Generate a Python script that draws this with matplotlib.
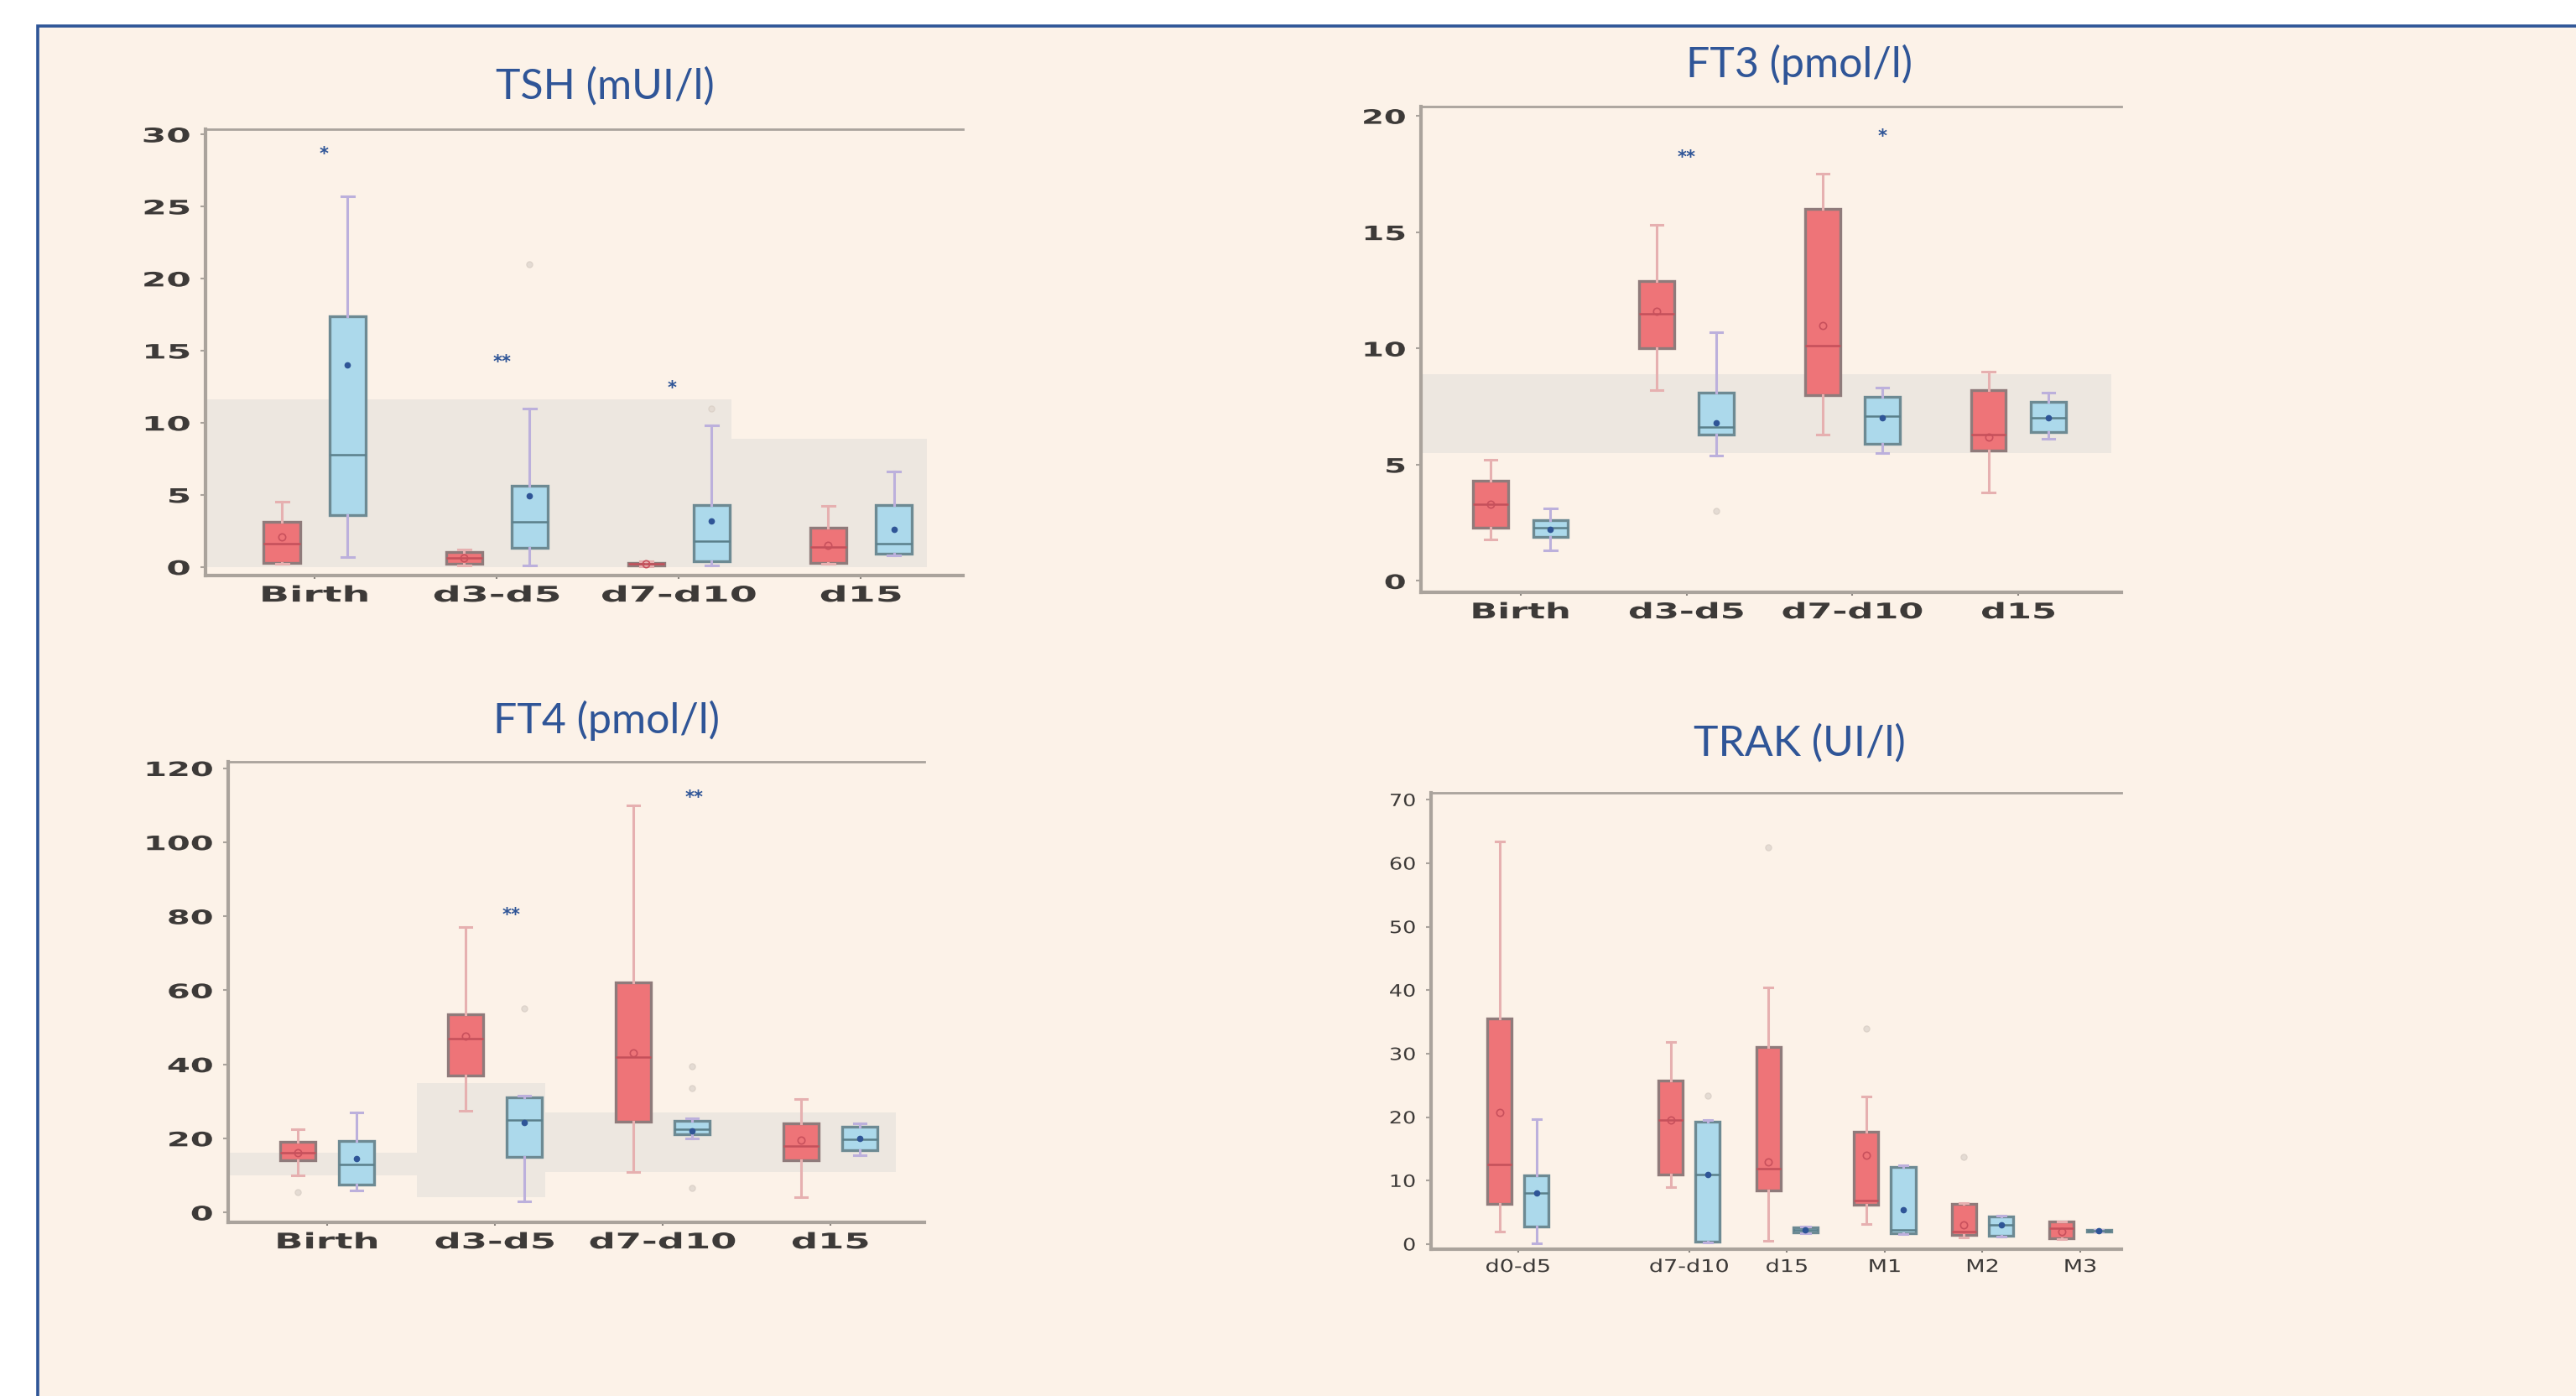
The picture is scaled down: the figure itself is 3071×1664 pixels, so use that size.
import matplotlib
matplotlib.use("Agg")
import matplotlib.pyplot as plt
from matplotlib import patheffects
from matplotlib.patches import Rectangle
from matplotlib.transforms import Affine2D

# ---------------- data ----------------
# each box: (whisker low, q1, median, q3, whisker high)
TSH_CATS = ["Birth", "d3-d5", "d7-d10", "d15"]
TSH_RED = [(0.2, 0.3, 1.6, 3.1, 4.5), (0.1, 0.2, 0.6, 1.0, 1.2),
           (0.05, 0.1, 0.2, 0.3, 0.4), (0.2, 0.3, 1.4, 2.7, 4.2)]
TSH_RED_MEAN = [2.1, 0.6, 0.2, 1.5]
TSH_RED_OUT = [[], [], [], []]
TSH_BLUE = [(0.7, 3.6, 7.8, 17.4, 25.7), (0.1, 1.3, 3.1, 5.6, 11.0),
            (0.1, 0.4, 1.8, 4.3, 9.8), (0.8, 0.9, 1.6, 4.3, 6.6)]
TSH_BLUE_MEAN = [14.0, 4.9, 3.2, 2.6]
TSH_BLUE_OUT = [[], [21.0], [11.0], []]
TSH_BAND_X = [(-0.6, 2.29), (2.29, 3.36)]
TSH_BAND_Y = [(0.0, 11.6), (0.0, 8.9)]
TSH_STARS = ["*", "**", "*"]
TSH_STAR_X = [0.05, 1.03, 1.96]
TSH_STAR_Y = [28.6, 14.2, 12.4]

FT3_CATS = ["Birth", "d3-d5", "d7-d10", "d15"]
FT3_RED = [(1.8, 2.3, 3.3, 4.3, 5.2), (8.2, 10.0, 11.5, 12.9, 15.3),
           (6.3, 8.0, 10.1, 16.0, 17.5), (3.8, 5.6, 6.3, 8.2, 9.0)]
FT3_RED_MEAN = [3.3, 11.6, 11.0, 6.2]
FT3_RED_OUT = [[], [], [], []]
FT3_BLUE = [(1.3, 1.9, 2.3, 2.6, 3.1), (5.4, 6.3, 6.6, 8.1, 10.7),
            (5.5, 5.9, 7.1, 7.9, 8.3), (6.1, 6.4, 7.0, 7.7, 8.1)]
FT3_BLUE_MEAN = [2.2, 6.8, 7.0, 7.0]
FT3_BLUE_OUT = [[], [3.0], [], []]
FT3_BAND_X = [(-0.6, 3.56)]
FT3_BAND_Y = [(5.5, 8.9)]
FT3_STARS = ["**", "*"]
FT3_STAR_X = [1.0, 2.18]
FT3_STAR_Y = [18.2, 19.1]

FT4_CATS = ["Birth", "d3-d5", "d7-d10", "d15"]
FT4_RED = [(10.0, 14.0, 16.0, 19.0, 22.5), (27.5, 37.0, 47.0, 53.5, 77.0),
           (11.0, 24.5, 42.0, 62.0, 110.0), (4.2, 14.0, 18.0, 24.0, 30.5)]
FT4_RED_MEAN = [16.0, 47.5, 43.0, 19.5]
FT4_RED_OUT = [[5.5], [], [], []]
FT4_BLUE = [(6.0, 7.5, 13.0, 19.2, 27.0), (3.0, 15.0, 25.0, 31.0, 31.5),
            (20.0, 21.0, 22.5, 24.7, 25.5), (15.5, 16.7, 19.8, 23.1, 24.0)]
FT4_BLUE_MEAN = [14.5, 24.2, 22.0, 20.0]
FT4_BLUE_OUT = [[], [55.0], [39.5, 33.5, 6.6], []]
FT4_BAND_X = [(-0.59, 0.535), (0.535, 1.3), (1.3, 3.39)]
FT4_BAND_Y = [(10.0, 16.0), (4.0, 35.0), (11.0, 27.0)]
FT4_STARS = ["**", "**"]
FT4_STAR_X = [1.1, 2.19]
FT4_STAR_Y = [80.3, 112.0]

TRAK_CATS = ["d0-d5", "d7-d10", "d15", "M1", "M2", "M3"]
TRAK_POS = [0, 1.75, 2.75, 3.75, 4.75, 5.75]
TRAK_RED = [(2.0, 6.3, 12.6, 35.6, 63.4), (9.0, 11.0, 19.5, 25.8, 31.8),
            (0.5, 8.5, 11.9, 31.1, 40.5), (3.2, 6.2, 6.8, 17.7, 23.3),
            (1.0, 1.5, 2.0, 6.3, 6.5), (0.8, 0.9, 2.5, 3.5, 3.6)]
TRAK_RED_MEAN = [20.8, 19.5, 13.0, 14.0, 3.0, 2.0]
TRAK_RED_OUT = [[], [], [62.5], [34.0], [13.7], []]
TRAK_BLUE = [(0.1, 2.8, 8.0, 10.8, 19.7), (0.2, 0.4, 10.9, 19.3, 19.6),
             (1.7, 1.9, 2.2, 2.6, 2.8), (1.6, 1.7, 2.2, 12.2, 12.4),
             (1.2, 1.3, 3.0, 4.3, 4.5), (2.0, 2.0, 2.1, 2.2, 2.2)]
TRAK_BLUE_MEAN = [8.0, 11.0, 2.2, 5.4, 3.0, 2.1]
TRAK_BLUE_OUT = [[], [23.4], [], [], [], []]

# ---------------- styles ----------------
W, H = 3071, 1664
BG = "#fcf2e8"
FRAME = "#2f5597"
BAND = "#ede7e0"
SPINE = "#aaa39c"
TXT = "#3d3a38"
RED_FACE = "#ee7478"
RED_EDGE = "#8f7b7b"
RED_WHISK = "#e6b0b0"
BLUE_FACE = "#acd9eb"
BLUE_EDGE = "#6d8a93"
BLUE_WHISK = "#bcb0dc"


class HStretch(patheffects.AbstractPathEffect):
    """Draw text wider than the font, like the stretched original."""

    def __init__(self, sx, anchor="center"):
        super().__init__()
        self.sx = sx
        self.anchor = anchor

    def draw_path(self, renderer, gc, tpath, affine, rgbFace=None):
        ext = tpath.get_extents()
        cx = ext.x1 if self.anchor == "right" else (ext.x0 + ext.x1) / 2
        t = Affine2D().translate(-cx, 0).scale(self.sx, 1).translate(cx, 0) + affine
        renderer.draw_path(gc, tpath, t, rgbFace)


def make_stats(boxes, means, outs):
    stats = []
    for (lo, q1, med, q3, hi), m, fl in zip(boxes, means, outs):
        stats.append(dict(whislo=lo, q1=q1, med=med, q3=q3, whishi=hi,
                          mean=m, fliers=fl))
    return stats


def draw_group(ax, boxes, means, outs, pos, width, face, edge, whisk, medc, meanp):
    ax.bxp(make_stats(boxes, means, outs), positions=pos, widths=width,
           patch_artist=True, showmeans=True, manage_ticks=False,
           capwidths=width * 0.35,
           boxprops=dict(facecolor=face, edgecolor=edge, linewidth=2.4),
           whiskerprops=dict(color=whisk, linewidth=2.2),
           capprops=dict(color=whisk, linewidth=2.2),
           medianprops=dict(color=medc, linewidth=1.8),
           meanprops=meanp,
           flierprops=dict(marker="o", markersize=5, markerfacecolor="#e4dbd3",
                           markeredgecolor="#ddd3ca"),
           zorder=3)


def panel(rect, cats, pos, red, red_mean, red_out, blue, blue_mean, blue_out,
          xlim, ylim, yticks, off, width, band_x=(), band_y=(), stars=(),
          star_x=(), star_y=(), sx=1.75, fs=18.5, yfs=17, weight="bold"):
    ax = fig.add_axes(rect)
    ax.set_facecolor("none")
    for (x0, x1), (lo, hi) in zip(band_x, band_y):
        ax.fill_between([x0, x1], [lo, lo], [hi, hi], color=BAND, lw=0, zorder=1)
    rpos = [p - off for p in pos]
    bpos = [p + off for p in pos]
    draw_group(ax, red, red_mean, red_out, rpos, width, RED_FACE, RED_EDGE,
               RED_WHISK, "#c4505a",
               dict(marker="o", markersize=6, markerfacecolor="none",
                    markeredgecolor="#c8505c", markeredgewidth=1.2))
    draw_group(ax, blue, blue_mean, blue_out, bpos, width, BLUE_FACE, BLUE_EDGE,
               BLUE_WHISK, "#5a7f8a",
               dict(marker="o", markersize=4.5, markerfacecolor="#2f5597",
                    markeredgecolor="#2f5597"))
    for s, x, y in zip(stars, star_x, star_y):
        ax.text(x, y, s, ha="center", va="center", color=FRAME,
                fontsize=15, fontweight="bold", zorder=5)
    ax.set_xlim(*xlim)
    ax.set_ylim(*ylim)
    ax.set_xticks(pos, cats)
    ax.set_yticks(yticks, [str(v) for v in yticks])
    ax.spines["right"].set_visible(False)
    for side in ("left", "bottom"):
        ax.spines[side].set_color(SPINE)
        ax.spines[side].set_linewidth(3)
    ax.spines["top"].set_color(SPINE)
    ax.spines["top"].set_linewidth(2)
    ax.tick_params(axis="y", length=4, width=1.5, color=SPINE, pad=9,
                   labelsize=yfs, labelcolor=TXT)
    ax.tick_params(axis="x", length=3, width=1.5, color="#8a847e", pad=5,
                   labelsize=fs, labelcolor=TXT)
    for lab in ax.get_yticklabels():
        lab.set_fontweight(weight)
        lab.set_path_effects([HStretch(sx * 0.97, "right")])
    for lab in ax.get_xticklabels():
        lab.set_fontweight(weight)
        lab.set_path_effects([HStretch(sx, "center")])
    return ax


def frac(px_left, px_top, px_right, px_bottom):
    return [px_left / W, 1 - px_bottom / H, (px_right - px_left) / W,
            (px_bottom - px_top) / H]


fig = plt.figure(figsize=(W / 100, H / 100), dpi=100)
fig.patch.set_facecolor("white")
fig.add_artist(Rectangle((45 / W, -0.1), 1.2, (1 - 31.2 / H) + 0.1,
                         transform=fig.transFigure, facecolor=BG,
                         edgecolor=FRAME, linewidth=2.6, zorder=-10))

panel(frac(245, 154, 1148, 686), TSH_CATS, [0, 1, 2, 3],
      TSH_RED, TSH_RED_MEAN, TSH_RED_OUT, TSH_BLUE, TSH_BLUE_MEAN, TSH_BLUE_OUT,
      (-0.6, 3.56), (-0.6, 30.35), [0, 5, 10, 15, 20, 25, 30], 0.18, 0.2,
      TSH_BAND_X, TSH_BAND_Y, TSH_STARS, TSH_STAR_X, TSH_STAR_Y, sx=1.85)

panel(frac(1694, 127, 2529, 706), FT3_CATS, [0, 1, 2, 3],
      FT3_RED, FT3_RED_MEAN, FT3_RED_OUT, FT3_BLUE, FT3_BLUE_MEAN, FT3_BLUE_OUT,
      (-0.6, 3.62), (-0.49, 20.4), [0, 5, 10, 15, 20], 0.18, 0.21,
      FT3_BAND_X, FT3_BAND_Y, FT3_STARS, FT3_STAR_X, FT3_STAR_Y, sx=1.68)

panel(frac(272, 908, 1102, 1457), FT4_CATS, [0, 1, 2, 3],
      FT4_RED, FT4_RED_MEAN, FT4_RED_OUT, FT4_BLUE, FT4_BLUE_MEAN, FT4_BLUE_OUT,
      (-0.59, 3.56), (-2.7, 121.7), [0, 20, 40, 60, 80, 100, 120], 0.175, 0.21,
      FT4_BAND_X, FT4_BAND_Y, FT4_STARS, FT4_STAR_X, FT4_STAR_Y, sx=1.75)

panel(frac(1706, 945, 2529, 1489), TRAK_CATS, TRAK_POS,
      TRAK_RED, TRAK_RED_MEAN, TRAK_RED_OUT, TRAK_BLUE, TRAK_BLUE_MEAN,
      TRAK_BLUE_OUT, (-0.89, 6.17), (-0.8, 71.1),
      [0, 10, 20, 30, 40, 50, 60, 70], 0.19, 0.25,
      sx=1.3, fs=15, yfs=14.5, weight="medium")

TITLES = ["TSH (mUI/l)", "FT3 (pmol/l)", "FT4 (pmol/l)", "TRAK (UI/l)"]
TITLE_XY = [(721, 103), (2145, 77), (723, 859), (2145, 886)]
for t, (x, y) in zip(TITLES, TITLE_XY):
    fig.text(x / W, 1 - y / H, t, ha="center", va="center", color=FRAME,
             fontsize=36, family=["Lato", "DejaVu Sans"])

fig.savefig("out.png", dpi=100, facecolor=fig.get_facecolor())
